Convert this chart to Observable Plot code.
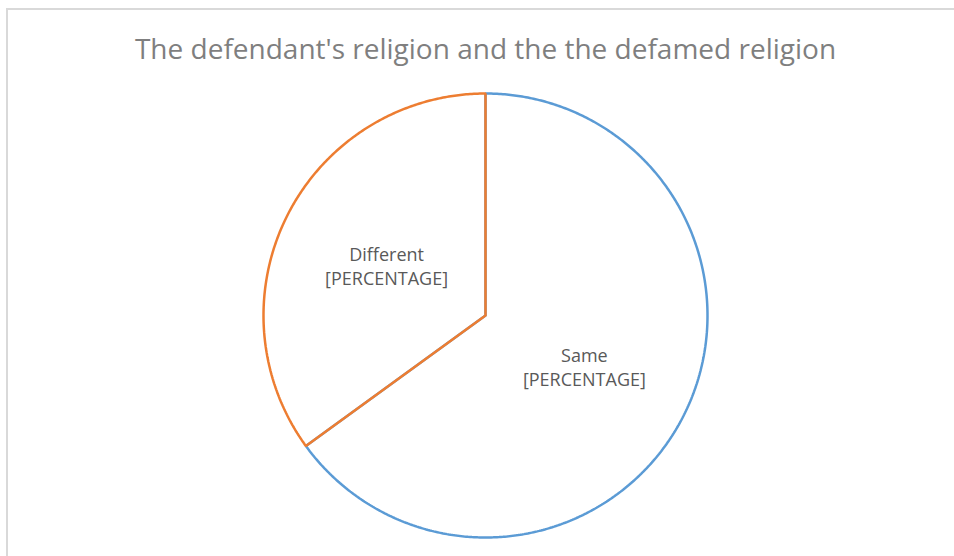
<!DOCTYPE html>
<html>
<head>
<meta charset="utf-8">
<script src="https://cdn.jsdelivr.net/npm/d3@7"></script>
<script src="https://cdn.jsdelivr.net/npm/@observablehq/plot@0.6"></script>
<style>
  html, body { margin: 0; padding: 0; background: #fff; overflow: hidden; }
  #wrap { position: relative; width: 954px; height: 556px; overflow: hidden; }
  #frame { position: absolute; left: 6px; top: 8px; width: 980px; height: 600px;
           border: 2px solid #d9d9d9; box-sizing: border-box; }
  #title { position: absolute; left: 0; width: 971px; top: 28px; text-align: center;
           font-family: "Open Sans", sans-serif; font-size: 28px; color: #7f7f7f;
           line-height: 40px; white-space: nowrap; }
  #chart { position: absolute; left: 0; top: 0; }
</style>
</head>
<body>
<div id="wrap">
  <div id="frame"></div>
  <div id="title">The defendant's religion and the the defamed religion</div>
  <div id="chart"></div>
</div>
<script>
const categories = ["Same", "Different"];
const values = [65, 35];
const valueLabels = ["[PERCENTAGE]", "[PERCENTAGE]"];
const colors = ["#5B9BD5", "#ED7D31"];

// Build slice outlines in data space (unit circle, angles clockwise from 12 o'clock)
const total = d3.sum(values);
const slices = [];
const labelRows = [];
let acc = 0;
categories.forEach((cat, i) => {
  const a0 = acc / total * 2 * Math.PI;
  acc += values[i];
  const a1 = acc / total * 2 * Math.PI;
  const n = Math.max(2, Math.ceil((a1 - a0) / (Math.PI / 360)));
  slices.push({cat, x: 0, y: 0});
  for (let k = 0; k <= n; k++) {
    const a = a0 + (a1 - a0) * k / n;
    slices.push({cat, x: Math.sin(a), y: Math.cos(a)});
  }
  slices.push({cat, x: 0, y: 0});
  const am = (a0 + a1) / 2;
  labelRows.push({cat, x: 0.5 * Math.sin(am), y: 0.5 * Math.cos(am), text: cat + "\n" + valueLabels[i]});
});

const plot = Plot.plot({
  width: 954,
  height: 556,
  marginLeft: 263,
  marginRight: 247,
  marginTop: 93,
  marginBottom: 19,
  x: {domain: [-1, 1], axis: null},
  y: {domain: [-1, 1], axis: null},
  color: {domain: categories, range: colors},
  style: {background: "transparent", fontFamily: "Open Sans, sans-serif"},
  marks: [
    Plot.line(slices, {x: "x", y: "y", z: "cat", stroke: "cat", strokeWidth: 2.5,
      strokeLinejoin: "miter", curve: "linear"}),
    Plot.text(labelRows, {x: "x", y: "y", text: "text", fill: "#595959",
      fontSize: 18, lineHeight: 1.33, textAnchor: "middle"})
  ]
});
document.getElementById("chart").appendChild(plot);
</script>
</body>
</html>
